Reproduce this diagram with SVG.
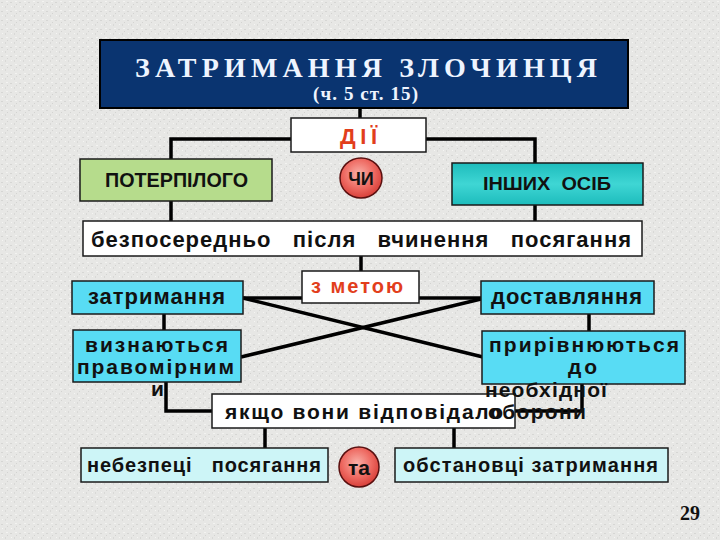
<svg xmlns="http://www.w3.org/2000/svg" width="720" height="540" viewBox="0 0 720 540">
<defs>
<pattern id="tex" width="9" height="9" patternUnits="userSpaceOnUse">
<rect width="9" height="9" fill="#e7e7e5"/>
<rect x="1" y="2" width="2" height="1" fill="#d6d6d4"/>
<rect x="5" y="6" width="1" height="2" fill="#d9d9d7"/>
<rect x="6" y="1" width="2" height="1" fill="#f3f3f1"/>
<rect x="2" y="6" width="1" height="1" fill="#f5f5f3"/>
<rect x="7" y="4" width="1" height="1" fill="#d3d3d1"/>
</pattern>
<radialGradient id="red" cx="45%" cy="40%" r="60%">
<stop offset="0" stop-color="#f9b0a8"/>
<stop offset="0.6" stop-color="#ee6a62"/>
<stop offset="1" stop-color="#d8403a"/>
</radialGradient>
<linearGradient id="teal" x1="0" y1="0" x2="0" y2="1">
<stop offset="0" stop-color="#1dbcbc"/>
<stop offset="0.5" stop-color="#3fd6d4"/>
<stop offset="1" stop-color="#1dbcbc"/>
</linearGradient>
<style>
.box{stroke:#1a1a1a;stroke-width:1.5}
.cy{fill:#58dcf4}
.pale{fill:#cdf5f7}
.wh{fill:#ffffff}
.ln{stroke:#000;stroke-width:3.5;fill:none}
.t{font-family:"Liberation Sans",Arial,sans-serif;fill:#111;font-weight:bold}
.red{fill:#e23e1c}
.ser{font-family:"Liberation Serif","Times New Roman",serif;font-weight:bold}
</style>
</defs>
<rect width="720" height="540" fill="url(#tex)"/>

<g id="connectors">
<path class="ln" d="M360 108V118"/>
<path class="ln" d="M291 139H171V159"/>
<path class="ln" d="M426 139H535V163"/>
<path class="ln" d="M171 201V221"/>
<path class="ln" d="M535 205V221"/>
<path class="ln" d="M361 256V272"/>
<path class="ln" d="M243 298H302"/>
<path class="ln" d="M419 298H481"/>
<path class="ln" d="M243 298L483 357"/>
<path class="ln" d="M241 357L481 299"/>
<path class="ln" d="M164 314V330"/>
<path class="ln" d="M589 314V331"/>
<path class="ln" d="M166 382V411H212"/>
<path class="ln" d="M582 384V411H515"/>
<path class="ln" d="M265 428V448"/>
<path class="ln" d="M454 428V448"/>
</g>

<g id="title">
<rect x="100" y="40" width="528" height="68" fill="#0a3470" stroke="#000" stroke-width="2"/>
<text class="ser" x="135" y="77" font-size="28" fill="#eef4ff" textLength="462" lengthAdjust="spacing">ЗАТРИМАННЯ ЗЛОЧИНЦЯ</text>
<text class="ser" x="313" y="100" font-size="19" fill="#eef4ff" textLength="105" lengthAdjust="spacing">(ч. 5 ст. 15)</text>
</g>

<g id="dii">
<rect class="box wh" x="291" y="118" width="135" height="34"/>
<text class="t red" x="340" y="144" font-size="22" textLength="37" lengthAdjust="spacing">ДІЇ</text>
</g>

<g id="poterpilogo">
<rect class="box" x="80" y="159" width="192" height="42" fill="#b6dc8c"/>
<text class="t" x="105" y="187" font-size="20" textLength="143" lengthAdjust="spacingAndGlyphs">ПОТЕРПІЛОГО</text>
</g>

<g id="chy">
<ellipse cx="361" cy="178" rx="21" ry="20" fill="url(#red)" stroke="#5a1010" stroke-width="1.5"/>
<text class="t" x="361" y="185" font-size="18" text-anchor="middle">ЧИ</text>
</g>

<g id="inshykh">
<rect class="box" x="452" y="163" width="191" height="42" fill="url(#teal)"/>
<text class="t" x="483" y="190" font-size="19" textLength="128" lengthAdjust="spacingAndGlyphs" xml:space="preserve">ІНШИХ  ОСІБ</text>
</g>

<g id="bezposeredno">
<rect class="box wh" x="83" y="221" width="559" height="35"/>
<text class="t" x="91" y="247" font-size="22" textLength="540" lengthAdjust="spacing" xml:space="preserve">безпосередньо   після   вчинення   посягання</text>
</g>

<g id="zmetoyu">
<rect class="box wh" x="302" y="271" width="117" height="32"/>
<text class="t red" x="311" y="293" font-size="20" textLength="92" lengthAdjust="spacing">з метою</text>
</g>

<g id="zatrymannya">
<rect class="box cy" x="72" y="281" width="171" height="33"/>
<text class="t" x="88" y="304" font-size="22" textLength="137" lengthAdjust="spacing">затримання</text>
</g>

<g id="dostavlyannya">
<rect class="box cy" x="481" y="281" width="173" height="33"/>
<text class="t" x="491" y="304" font-size="22" textLength="151" lengthAdjust="spacing">доставляння</text>
</g>

<g id="vyznayutsya">
<rect class="box cy" x="73" y="330" width="168" height="52"/>
<text class="t" x="85" y="352" font-size="21" textLength="143" lengthAdjust="spacing">визнаються</text>
<text class="t" x="77" y="374" font-size="21" textLength="157" lengthAdjust="spacing">правомірним</text>
<text class="t" x="151" y="396" font-size="21">и</text>
</g>

<g id="pryrivnyuyutsya">
<rect class="box cy" x="482" y="331" width="203" height="53"/>
<text class="t" x="489" y="352" font-size="21" textLength="190" lengthAdjust="spacing">прирівнюються</text>
<text class="t" x="568" y="374" font-size="21" textLength="29" lengthAdjust="spacing">до</text>
</g>

<g id="yakshcho">
<rect class="box wh" x="212" y="394" width="303" height="34"/>
<text class="t" x="225" y="419" font-size="21" textLength="278" lengthAdjust="spacing">якщо вони відповідало</text>
</g>

<g id="neobkhidnoyi">
<text class="t" x="485" y="397" font-size="21" textLength="122" lengthAdjust="spacing">необхідної</text>
<text class="t" x="488" y="419" font-size="21" textLength="98" lengthAdjust="spacing">оборони</text>
</g>

<g id="nebezpetsi">
<rect class="box pale" x="81" y="448" width="247" height="34"/>
<text class="t" x="87" y="472" font-size="20" textLength="234" lengthAdjust="spacing" xml:space="preserve">небезпеці   посягання</text>
</g>

<g id="ta">
<ellipse cx="359" cy="467" rx="20" ry="20" fill="url(#red)" stroke="#5a1010" stroke-width="1.5"/>
<text class="t" x="359" y="475" font-size="21" text-anchor="middle">та</text>
</g>

<g id="obstanovtsi">
<rect class="box pale" x="395" y="448" width="273" height="34"/>
<text class="t" x="403" y="472" font-size="20" textLength="255" lengthAdjust="spacing">обстановці затримання</text>
</g>

<text class="ser" x="680" y="520" font-size="20" fill="#111">29</text>
</svg>
